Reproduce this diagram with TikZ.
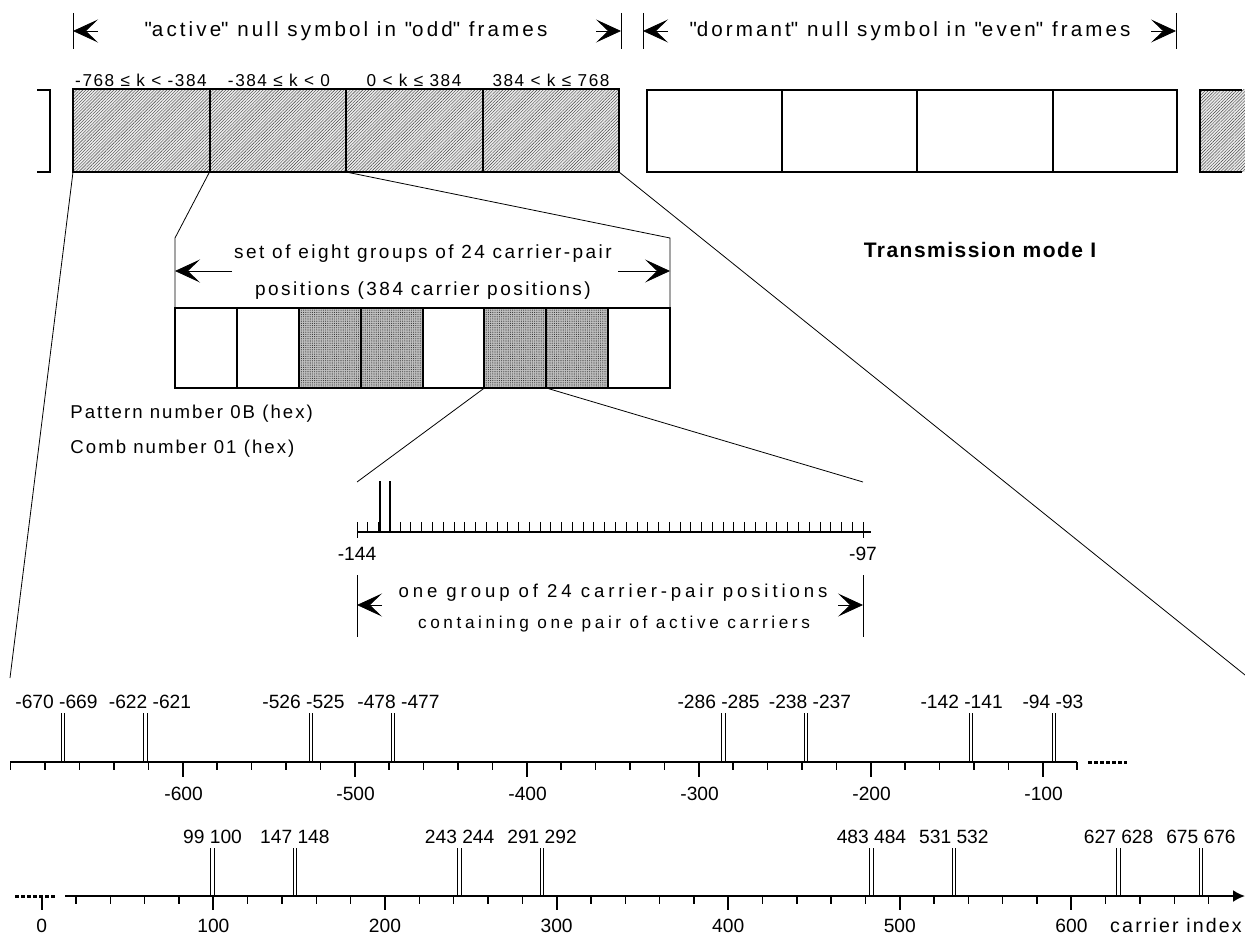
\documentclass[tikz,border=0pt]{standalone}
\usepackage{fontspec}
\setmainfont{Liberation Sans}
\usepackage{tikz}
\usetikzlibrary{arrows.meta}
\usetikzlibrary{patterns.meta}

\tikzset{
  hatch/.style={preaction={fill=black!8},pattern={Lines[angle=45,distance=1.1pt,line width=0.2pt]},pattern color=black!75},
  grain/.style={preaction={fill=black!25},pattern={Dots[distance=1.1pt,radius=0.28pt]},pattern color=black!80},
  cell/.style={line width=1pt},
  dimtip/.style={-{Stealth[length=12.5pt,width=11.5pt,inset=6pt]}},
  head/.style={anchor=base,inner sep=0pt,font=\fontsize{10.3}{12}\selectfont\addfontfeature{LetterSpace=15}},
  rangelbl/.style={anchor=base,inner sep=0pt,font=\fontsize{8.6}{10}\selectfont\addfontfeature{LetterSpace=9}},
  midtext/.style={anchor=base,inner sep=0pt,font=\fontsize{9.5}{11}\selectfont\addfontfeature{LetterSpace=13}},
  side/.style={anchor=base west,inner sep=0pt,font=\fontsize{9.3}{11}\selectfont\addfontfeature{LetterSpace=11}},
  num/.style={anchor=base,inner sep=0pt,font=\fontsize{9.6}{11}\selectfont},
  pairline/.style={line width=0.5pt}
}
\newcommand{\q}{\textquotedbl}

\begin{document}
\begin{tikzpicture}[x=0.5pt,y=-0.5pt]
\useasboundingbox (0,0) rectangle (1245,935);

% headers over the two null symbols
\draw (73,13)--(73,49) (621,13)--(621,49) (643,13)--(643,49) (1176,13)--(1176,49);
\draw[dimtip] (98,31)--(73,31);
\draw[dimtip] (596,31)--(621,31);
\draw[dimtip] (668,31)--(643,31);
\draw[dimtip] (1151,31)--(1176,31);
\node[head] (odd) at (346,37) {\q active\q{} null symbol in \q odd\q{} frames};
\node[head] (even) at (910,37) {\q dormant\q{} null symbol in \q even\q{} frames};

% active null symbol
\fill[hatch] (73,89) rectangle (619,172);
\foreach \x in {73,209.5,346,482.5}{
    \draw[cell] (\x,89) rectangle (\x+136.5,172);
}
\foreach \x/\t [count=\n] in {141/{-768 ≤ k < -384},279/{-384 ≤ k < 0},414/{0 < k ≤ 384},551/{384 < k ≤ 768}}{
    \node[rangelbl] (rng\n) at (\x,87) {\t};
}
\draw[line width=1pt] (37,90)--(50,90)--(50,172)--(37,172);

% dormant null symbol
\foreach \x/\w in {647/135,782/135,917/136,1053/124}{
    \draw[cell] (\x,90) rectangle (\x+\w,172);
}
\fill[hatch] (1200,90) rectangle (1245,172);
\draw[cell] (1242,90)--(1200,90)--(1200,172)--(1242,172);

\node[anchor=base,inner sep=0pt,font=\fontsize{10.5}{12}\selectfont\bfseries\addfontfeature{LetterSpace=7}] (mode) at (980,258) {Transmission mode I};

% zoom lines
\coordinate (a0) at (73,172);
\coordinate (a1) at (209.5,172);
\coordinate (a2) at (346,172);
\coordinate (a4) at (619,172);
\coordinate (negend) at (10,678);
\coordinate (posend) at (1245,675);
\coordinate (m0) at (175,308);
\coordinate (m8) at (670,308);
\draw (a0)--(negend);
\draw (a4)--(posend);
\draw (a1)--(175,238)--(m0);
\draw (a2)--(670,238)--(m8);

% set of eight groups
\foreach \i in {2,3,5,6}{
    \fill[grain] ({175+61.875*\i},308) rectangle ++(61.875,80);
}
\foreach \i in {0,...,7}{
    \draw[cell] ({175+61.875*\i},308) rectangle ++(61.875,80);
}
\draw[dimtip] (232,271)--(175,271);
\draw[dimtip] (618,271)--(670,271);
\node[midtext] (set1) at (423,259) {set of eight groups of 24 carrier-pair};
\node[midtext] (set2) at (423,295) {positions (384 carrier positions)};

\node[side] (pat) at (70,418) {Pattern number 0B (hex)};
\node[side] (comb) at (70,453) {Comb number 01 (hex)};

% one group
\coordinate (g0) at (484.4,388);
\coordinate (g1) at (546.3,388);
\coordinate (c0) at (357,482);
\coordinate (c1) at (863,482);
\draw (g0)--(c0);
\draw (g1)--(c1);
\draw[line width=0.8pt] (357,532)--(871,532);
\foreach \i in {0,...,47}{
    \draw (357+10.766*\i,522)--++(0,10);
}
\draw (357,532)--(357,538) (863,532)--(863,538);
\draw[line width=1pt] (379.5,481)--(379.5,532) (389.8,481)--(389.8,532);
\node[num] (lo) at (357,560) {-144};
\node[num] (hi) at (863,560) {-97};

\draw (357,575)--(357,637) (863,575)--(863,637);
\draw[dimtip] (382,605)--(357,605);
\draw[dimtip] (838,605)--(863,605);
\node[anchor=base,inner sep=0pt,font=\fontsize{9.3}{11}\selectfont\addfontfeature{LetterSpace=21}] (grp1) at (613,597) {one group of 24 carrier-pair positions};
\node[anchor=base,inner sep=0pt,font=\fontsize{8.6}{10}\selectfont\addfontfeature{LetterSpace=21}] (grp2) at (614,628) {containing one pair of active carriers};

% negative carrier axis
\draw[line width=1pt] (10,762)--(1077,762);
\draw[line width=1.5pt,dash pattern=on 2pt off 1pt] (1088,762)--(1127,762);
\foreach \k in {-700,-680,...,-80}{
    \draw[line width=0.7pt] ({1214.6+1.72*(\k)},762)--++(0,8);
}
\foreach \k in {-600,-500,...,-100}{
    \draw[line width=1pt] ({1214.6+1.72*(\k)},762)--++(0,15);
    \node[num] (neg\k) at ({1214.6+1.72*(\k)+1},800) {\k};
}
\foreach \k/\lx in {-670/56.5,-622/150,-526/303.5,-478/398.5,-286/718.6,-238/810,-142/961.6,-94/1053}{
    \pgfmathtruncatemacro\kk{\k+1}
    \draw[pairline] ({1214.6+1.72*(\k)-0.8},713)--++(0,49);
    \draw[pairline] ({1214.6+1.72*(\k)+2.5},713)--++(0,49);
    \node[num] (pn\k) at (\lx,708) {\k{} \kk};
}

% positive carrier axis
\draw[line width=1pt,-{Latex[length=6pt,width=6pt]}] (65,896)--(1245,896);
\draw[line width=1.5pt,dash pattern=on 2pt off 1pt] (15,896)--(57,896);
\foreach \k in {20,40,...,680}{
    \draw[line width=0.7pt] ({41.8+1.716*\k},896)--++(0,8);
}
\draw[line width=1pt] (41.8,898)--(41.8,910);
\node[num] (zero) at (41.8,932) {0};
\foreach \k in {100,200,...,600}{
    \draw[line width=1pt] ({41.8+1.716*\k},896)--++(0,14);
    \node[num] (pos\k) at ({41.8+1.716*\k},932) {\k};
}
\foreach \k in {99,147,243,291,483,531,627,675}{
    \pgfmathtruncatemacro\kk{\k+1}
    \draw[pairline] ({41.8+1.716*\k-0.8},848)--++(0,48);
    \draw[pairline] ({41.8+1.716*\k+2.5},848)--++(0,48);
    \node[num] (pp\k) at ({41.8+1.716*\k+0.86},843) {\k{} \kk};
}
\node[anchor=base,inner sep=0pt,font=\fontsize{9.8}{11}\selectfont\addfontfeature{LetterSpace=11}] (cidx) at (1176,932) {carrier index};

\end{tikzpicture}
\end{document}
